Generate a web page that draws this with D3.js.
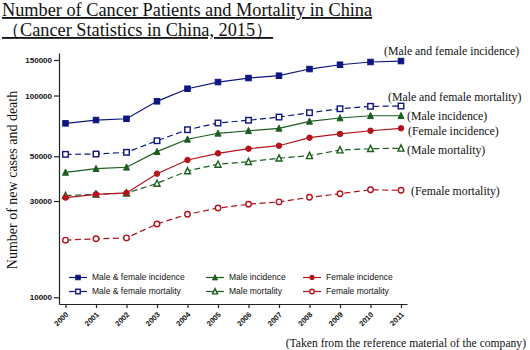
<!DOCTYPE html>
<html lang="en">
<head>
    <meta charset="UTF-8">
    <script src="https://d3js.org/d3.v7.min.js"></script>
    <title>Cancer Patients and Mortality in China</title>
    <style>
        body { margin: 0; background: #fff; }
        .serif { font-family: "Liberation Serif", "Times New Roman", serif; fill: #111; }
        .sans { font-family: "Liberation Sans", Arial, sans-serif; fill: #111; }
        .axis path, .axis line { stroke: #222; stroke-width: 1.2; }
    </style>
</head>
<body>
<div id="chart"></div>
<script>
// Data
const years = [2000, 2001, 2002, 2003, 2004, 2005, 2006, 2007, 2008, 2009, 2010, 2011];
const bothIncidence = [72800, 75600, 76700, 93600, 108100, 116600, 122100, 125400, 135300, 142100, 146600, 148200];
const bothMortality = [51100, 51300, 52300, 59700, 67700, 73100, 75400, 78200, 82200, 86000, 88400, 88700];
const maleIncidence = [41600, 43400, 44100, 52700, 60700, 65000, 66900, 68800, 74500, 77400, 79400, 79400];
const femaleIncidence = [31200, 32400, 32900, 41000, 47900, 51700, 54500, 56400, 61800, 64500, 66900, 68800];
const maleMortality = [31900, 32400, 32800, 36700, 42300, 45600, 47000, 48900, 50300, 53700, 54500, 54800];
const femaleMortality = [19200, 19500, 19700, 23100, 25800, 27700, 28900, 29700, 31300, 32600, 34100, 33900];
const yTicks = [10000, 30000, 50000, 100000, 150000];

const series = [
    { name: "Male & female incidence", label: "(Male and female incidence)", values: bothIncidence, color: "#0d1580", shape: "square", open: false, dashed: false },
    { name: "Male & female mortality", label: "(Male and female mortality)", values: bothMortality, color: "#0d1580", shape: "square", open: true, dashed: true },
    { name: "Male incidence", label: "(Male incidence)", values: maleIncidence, color: "#1b5e20", shape: "triangle", open: false, dashed: false },
    { name: "Male mortality", label: "(Male mortality)", values: maleMortality, color: "#1b5e20", shape: "triangle", open: true, dashed: true },
    { name: "Female incidence", label: "(Female incidence)", values: femaleIncidence, color: "#b3131b", shape: "circle", open: false, dashed: false },
    { name: "Female mortality", label: "(Female mortality)", values: femaleMortality, color: "#b3131b", shape: "circle", open: true, dashed: true }
];

// where the end labels sit (offsets from the last point)
const labelPos = {
    "(Male and female incidence)": [-17, -10],
    "(Male and female mortality)": [-13, -9],
    "(Male incidence)": [6, 0],
    "(Female incidence)": [7, 3],
    "(Male mortality)": [6, 2],
    "(Female mortality)": [10, 1]
};

const W = 530, H = 350;
const svg = d3.select("#chart").append("svg")
    .attr("width", W)
    .attr("height", H);

// Scales
const x = d3.scaleLinear().domain([2000, 2011]).range([65.5, 401]);
x.domain([x.invert(59), x.invert(407)]).range([59, 407]);

const y = d3.scaleLog().domain([10000, 150000]).range([297.3, 60]);
y.domain([y.invert(304), y.invert(53)]).range([304, 53]);

// Title
svg.append("text").attr("class", "serif")
    .attr("x", 2).attr("y", 16)
    .style("font-size", "18.3px")
    .style("text-decoration", "underline")
    .text("Number of Cancer Patients and Mortality in China");
svg.append("text").attr("class", "serif")
    .attr("x", 2).attr("y", 36)
    .style("font-size", "18.3px")
    .style("text-decoration", "underline")
    .text("（Cancer Statistics in China, 2015）");

// Axes
const xAxis = svg.append("g")
    .attr("class", "axis")
    .attr("transform", "translate(0,304)")
    .call(d3.axisBottom(x).tickValues(years).tickFormat(d3.format("d")).tickSize(4).tickSizeOuter(0));
xAxis.selectAll("text")
    .attr("class", "sans")
    .style("font-size", "7.5px")
    .style("font-weight", "bold")
    .style("text-anchor", "end")
    .attr("y", 0).attr("dy", 0)
    .attr("transform", "translate(3,11) rotate(-45)");

const yAxis = svg.append("g")
    .attr("class", "axis")
    .attr("transform", "translate(59,0)")
    .call(d3.axisLeft(y).tickValues(yTicks).tickFormat(d3.format("d")).tickSize(5).tickSizeOuter(0));
yAxis.selectAll("text")
    .attr("class", "sans")
    .style("font-size", "8px")
    .style("font-weight", "bold")
    .attr("x", -7);

svg.append("text").attr("class", "serif")
    .attr("transform", "translate(17,180) rotate(-90)")
    .style("font-size", "14px")
    .style("text-anchor", "middle")
    .text("Number of new cases and death");

// Markers
function drawMarker(g, s, size) {
    let m;
    if (s.shape === "square") {
        m = g.append("rect").attr("x", -size / 2).attr("y", -size / 2)
            .attr("width", size).attr("height", size);
    } else if (s.shape === "circle") {
        m = g.append("circle").attr("r", size / 2);
    } else {
        const h = size * 0.95;
        m = g.append("path").attr("d", `M0,${-h / 2 - 0.5}L${size / 2},${h / 2}L${-size / 2},${h / 2}Z`);
    }
    m.attr("fill", s.open ? "#fff" : s.color)
        .attr("stroke", s.color)
        .attr("stroke-width", s.open ? 1.4 : 1);
}

const line = d3.line()
    .x((d, i) => x(years[i]))
    .y(d => y(d));

// draw order: bottom series first
const order = [5, 3, 4, 2, 1, 0];
order.forEach(k => {
    const s = series[k];
    svg.append("path")
        .attr("d", line(s.values))
        .attr("fill", "none")
        .attr("stroke", s.color)
        .attr("stroke-width", 1.2)
        .attr("stroke-dasharray", s.dashed ? "6,3.5" : null);
    s.values.forEach((v, i) => {
        const g = svg.append("g").attr("transform", `translate(${x(years[i])},${y(v)})`);
        drawMarker(g, s, s.shape === "triangle" ? 6 : 5.5);
    });
    const last = s.values[s.values.length - 1];
    const off = labelPos[s.label];
    svg.append("text").attr("class", "serif")
        .attr("x", x(2011) + off[0])
        .attr("y", y(last) + off[1])
        .attr("dy", "0.35em")
        .style("font-size", "11.8px")
        .text(s.label);
});

// Legend
const legendCols = [69, 206, 303];
const legendRows = [277.5, 291.5];
const legendLayout = [[0, 0, 0], [1, 1, 0], [2, 0, 1], [3, 1, 1], [4, 0, 2], [5, 1, 2]];
legendLayout.forEach(([k, r, c]) => {
    const s = series[k];
    const g = svg.append("g").attr("transform", `translate(${legendCols[c]},${legendRows[r]})`);
    g.append("line").attr("x1", 0).attr("x2", 18)
        .attr("stroke", s.color).attr("stroke-width", 1.2);
    const mg = g.append("g").attr("transform", "translate(9,0)");
    drawMarker(mg, s, s.shape === "triangle" ? 5 : 4.5);
    g.append("text").attr("class", "sans")
        .attr("x", 23).attr("dy", "0.35em")
        .style("font-size", "8.5px")
        .text(s.name);
});

// Source note
svg.append("text").attr("class", "serif")
    .attr("x", 526).attr("y", 347)
    .style("font-size", "11.6px")
    .style("text-anchor", "end")
    .text("(Taken from the reference material of the company)");
</script>
</body>
</html>
